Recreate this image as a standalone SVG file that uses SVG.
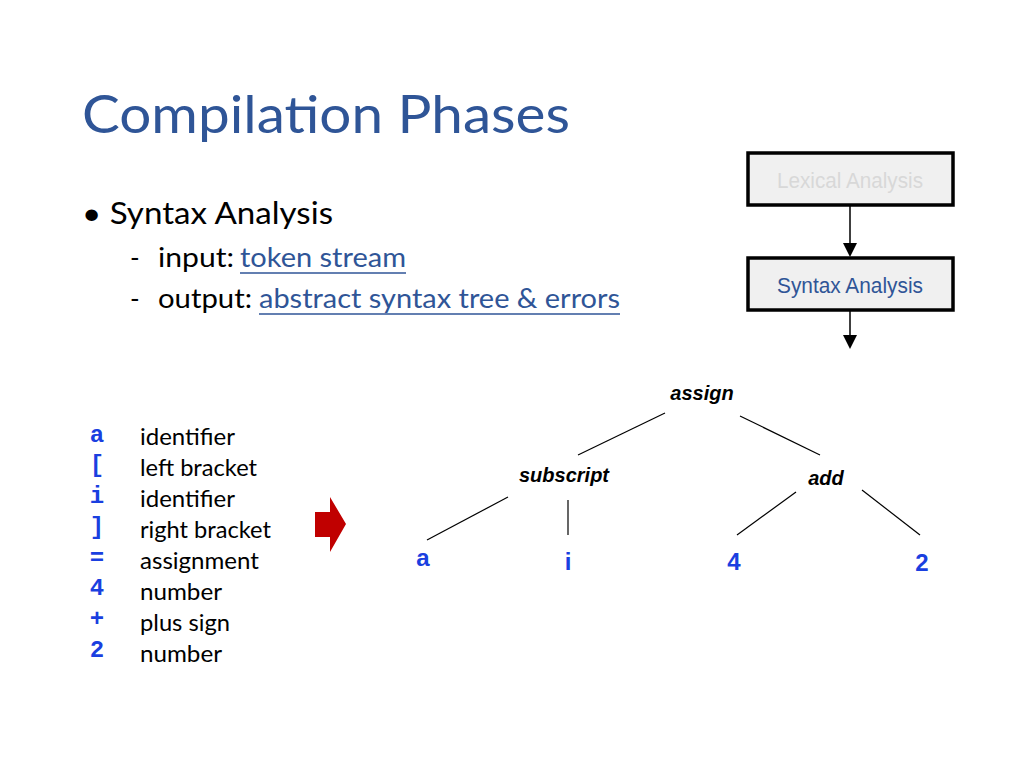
<svg xmlns="http://www.w3.org/2000/svg" width="1024" height="768" viewBox="0 0 1024 768">
<style>
.t{font-family:Lato,"Liberation Sans",sans-serif;fill:#000}
.c{font-family:"Liberation Mono",monospace;font-weight:bold;fill:#1A3FE0;font-size:24px}
.n{font-family:"Liberation Sans",Arial,sans-serif;font-style:italic;font-weight:bold;font-size:20px;fill:#000}
.lf{font-family:"Liberation Sans",Arial,sans-serif;font-weight:bold;font-size:24px;fill:#1A3FE0}
.box{fill:#F0F0F0;stroke:#000;stroke-width:3.5}
.ln{stroke:#000;stroke-width:1.2;fill:none}
</style>
<rect width="1024" height="768" fill="#fff"/>
<text class="t" x="82" y="133" font-size="52" style="fill:#2F5597" textLength="488" lengthAdjust="spacingAndGlyphs">Compilation Phases</text>
<text class="t" x="82" y="224" font-size="30" textLength="251" lengthAdjust="spacingAndGlyphs">• Syntax Analysis</text>
<text class="t" x="130" y="267" font-size="26">-</text>
<text class="t" x="158" y="267" font-size="26" textLength="76" lengthAdjust="spacingAndGlyphs">input:</text>
<text class="t" x="240" y="267" font-size="26" style="fill:#2F5597" textLength="166" lengthAdjust="spacingAndGlyphs">token stream</text>
<line x1="240" y1="273" x2="406" y2="273" stroke="#2F5597" stroke-width="1.5"/>
<text class="t" x="130" y="308" font-size="26">-</text>
<text class="t" x="158" y="308" font-size="26" textLength="94" lengthAdjust="spacingAndGlyphs">output:</text>
<text class="t" x="259" y="308" font-size="26" style="fill:#2F5597" textLength="361" lengthAdjust="spacingAndGlyphs">abstract syntax tree &amp; errors</text>
<line x1="259" y1="314" x2="620" y2="314" stroke="#2F5597" stroke-width="1.5"/>
<g id="lexical"><rect class="box" x="748" y="153" width="205" height="52"/><text x="850" y="188" text-anchor="middle" font-family="Liberation Sans,sans-serif" font-size="22" fill="#D8D8D8" textLength="146" lengthAdjust="spacingAndGlyphs">Lexical Analysis</text></g>
<g id="syntax"><rect class="box" x="748" y="258" width="205" height="52"/><text x="850" y="293" text-anchor="middle" font-family="Liberation Sans,sans-serif" font-size="22" fill="#2F5597" textLength="146" lengthAdjust="spacingAndGlyphs">Syntax Analysis</text></g>
<g id="connectors">
<line x1="850" y1="206" x2="850" y2="246" stroke="#000" stroke-width="1.5"/><path d="M843,243L857,243L850,257z"/>
<line x1="850" y1="311" x2="850" y2="336" stroke="#000" stroke-width="1.5"/><path d="M843,335L857,335L850,349z"/>
<line class="ln" x1="665" y1="413" x2="578" y2="455"/>
<line class="ln" x1="740" y1="416" x2="820" y2="455"/>
<line class="ln" x1="508" y1="497" x2="427" y2="540"/>
<line class="ln" x1="568" y1="500" x2="568" y2="535"/>
<line class="ln" x1="796" y1="492" x2="737" y2="535"/>
<line class="ln" x1="862" y1="490" x2="920" y2="535"/>
</g>
<g id="tokens">
<text class="c" x="97" y="442" text-anchor="middle">a</text>
<text class="c" x="97" y="472" text-anchor="middle">[</text>
<text class="c" x="97" y="503" text-anchor="middle">i</text>
<text class="c" x="97" y="534" text-anchor="middle">]</text>
<text class="c" x="97" y="565" text-anchor="middle">=</text>
<text class="c" x="97" y="595" text-anchor="middle">4</text>
<text class="c" x="97" y="626" text-anchor="middle">+</text>
<text class="c" x="97" y="657" text-anchor="middle">2</text>
<text class="t" font-size="23" x="140" y="445" textLength="95" lengthAdjust="spacingAndGlyphs">identifier</text>
<text class="t" font-size="23" x="140" y="476" textLength="117" lengthAdjust="spacingAndGlyphs">left bracket</text>
<text class="t" font-size="23" x="140" y="507" textLength="95" lengthAdjust="spacingAndGlyphs">identifier</text>
<text class="t" font-size="23" x="140" y="538" textLength="131" lengthAdjust="spacingAndGlyphs">right bracket</text>
<text class="t" font-size="23" x="140" y="569" textLength="119" lengthAdjust="spacingAndGlyphs">assignment</text>
<text class="t" font-size="23" x="140" y="600" textLength="82" lengthAdjust="spacingAndGlyphs">number</text>
<text class="t" font-size="23" x="140" y="631" textLength="90" lengthAdjust="spacingAndGlyphs">plus sign</text>
<text class="t" font-size="23" x="140" y="662" textLength="82" lengthAdjust="spacingAndGlyphs">number</text>
</g>
<path id="bigarrow" d="M315,512L330,512L330,497L346,524L330,552L330,537L315,537z" fill="#C00000"/>
<g id="assign"><text class="n" x="702" y="400" text-anchor="middle">assign</text></g>
<g id="subscript"><text class="n" x="564" y="482" text-anchor="middle">subscript</text></g>
<g id="add"><text class="n" x="826" y="485" text-anchor="middle">add</text></g>
<g id="leaf-a"><text class="lf" x="423" y="566" text-anchor="middle">a</text></g>
<g id="leaf-i"><text class="lf" x="568" y="570" text-anchor="middle">i</text></g>
<g id="leaf-4"><text class="lf" x="734" y="570" text-anchor="middle">4</text></g>
<g id="leaf-2"><text class="lf" x="922" y="571" text-anchor="middle">2</text></g>
</svg>
